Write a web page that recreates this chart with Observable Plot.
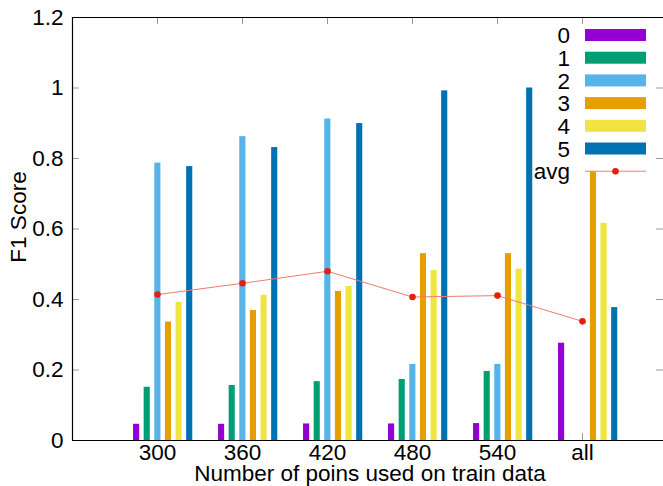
<!DOCTYPE html>
<html>
<head>
<meta charset="utf-8">
<script src="https://cdn.jsdelivr.net/npm/d3@7"></script>
<script src="https://cdn.jsdelivr.net/npm/@observablehq/plot@0.6"></script>
<style>
  html, body { margin: 0; padding: 0; background: #fff; }
  #chart svg { display: block; }
</style>
</head>
<body>
<div id="chart"></div>
<script>
// ---- data ----
const categories = ["300", "360", "420", "480", "540", "all"];
const seriesNames = ["0", "1", "2", "3", "4", "5"];
const s0 = [0.046, 0.046, 0.047, 0.047, 0.048, 0.276];
const s1 = [0.151, 0.156, 0.167, 0.173, 0.196, 0];
const s2 = [0.787, 0.862, 0.912, 0.216, 0.216, 0];
const s3 = [0.336, 0.369, 0.423, 0.530, 0.530, 0.762];
const s4 = [0.392, 0.412, 0.437, 0.482, 0.486, 0.616];
const s5 = [0.777, 0.831, 0.899, 0.992, 1.000, 0.377];
const avgValues = [0.414, 0.446, 0.480, 0.407, 0.411, 0.338];
const yTicks = [0, 0.2, 0.4, 0.6, 0.8, 1, 1.2];
const avgName = "avg";
const xTitle = "Number of poins used on train data";
const yTitle = "F1 Score";

// ---- styles ----
const colors = ["#9400d3", "#009e73", "#56b4e9", "#e69f00", "#f0e442", "#0072b2"];
const avgLineColor = "#f07a72";
const avgDotColor = "#e51e10";
const font = "'Liberation Sans', Arial, Helvetica, sans-serif";
const fontSize = 22.5;

const width = 663, height = 486;
const mL = 72, mT = 17, mB = 46, mR = 0;
const innerW = width - mL - mR, innerH = height - mT - mB;
const tickLen = 7;
const xDomain = [-1, 5.953];
const barStep = 0.125, barShift = 0.004, barHalf = 0.036;

const allSeries = [s0, s1, s2, s3, s4, s5];
const bars = allSeries.flatMap((vals, k) => vals.map((v, i) => ({
  i, k, value: v,
  x1: i + (k - 2) * barStep + barShift - barHalf,
  x2: i + (k - 2) * barStep + barShift + barHalf
})));
const avgRows = avgValues.map((v, i) => ({ i, value: v }));
const catIdx = categories.map((c, i) => i);

const plot = Plot.plot({
  width, height,
  marginLeft: mL, marginTop: mT, marginBottom: mB, marginRight: mR,
  style: { fontFamily: font, fontSize: fontSize + "px", background: "#fff", color: "#000" },
  x: { type: "linear", domain: xDomain },
  y: { domain: [yTicks[0], yTicks[yTicks.length - 1]] },
  color: { domain: seriesNames, range: colors },
  marks: [
    // inward grey tick marks
    Plot.tickY(yTicks, { y: d => d, stroke: "#9a9a9a", insetRight: innerW - tickLen }),
    Plot.tickY(yTicks, { y: d => d, stroke: "#9a9a9a", insetLeft: innerW - tickLen }),
    Plot.tickX(catIdx, { x: d => d, stroke: "#9a9a9a", insetBottom: innerH - tickLen }),
    Plot.tickX(catIdx, { x: d => d, stroke: "#9a9a9a", insetTop: innerH - tickLen }),
    // bars
    Plot.rectY(bars, { x1: "x1", x2: "x2", y1: 0, y2: "value", fill: d => seriesNames[d.k] }),
    // avg line
    Plot.line(avgRows, { x: "i", y: "value", stroke: avgLineColor, strokeWidth: 1 }),
    Plot.dot(avgRows, { x: "i", y: "value", r: 3.3, fill: avgDotColor, stroke: "none" }),
    // border
    Plot.ruleX([xDomain[0]], { stroke: "#000", strokeWidth: 1.2 }),
    Plot.ruleY([yTicks[0]], { stroke: "#000", strokeWidth: 1.2 }),
    Plot.ruleY([yTicks[yTicks.length - 1]], { stroke: "#000", strokeWidth: 1.2 }),
    // axes
    Plot.axisY(yTicks, { tickSize: 0, tickPadding: 9, tickFormat: d => String(d), label: null, fontSize }),
    Plot.axisX(catIdx, { tickSize: 0, tickPadding: 4, tickFormat: i => categories[i], label: null, fontSize })
  ]
});

document.getElementById("chart").appendChild(plot);

// titles and legend
const svg = d3.select(plot);
svg.append("text")
  .attr("x", 370).attr("y", 481)
  .attr("text-anchor", "middle")
  .attr("font-family", font).attr("font-size", fontSize)
  .attr("fill", "#000")
  .text(xTitle);
svg.append("text")
  .attr("transform", "translate(26,217) rotate(-90)")
  .attr("text-anchor", "middle")
  .attr("font-family", font).attr("font-size", fontSize)
  .attr("fill", "#000")
  .text(yTitle);

const leg = svg.append("g");
const rowY0 = 35, rowStep = 22.7, labelX = 570, swX = 585, swW = 61, swH = 12;
seriesNames.forEach((name, k) => {
  const cy = rowY0 + k * rowStep;
  leg.append("text")
    .attr("x", labelX).attr("y", cy).attr("dy", "0.36em")
    .attr("text-anchor", "end")
    .attr("font-family", font).attr("font-size", fontSize)
    .attr("fill", "#000")
    .text(name);
  leg.append("rect")
    .attr("x", swX).attr("y", cy - swH / 2)
    .attr("width", swW).attr("height", swH)
    .attr("fill", colors[k]);
});
{
  const cy = rowY0 + seriesNames.length * rowStep;
  leg.append("text")
    .attr("x", labelX).attr("y", cy).attr("dy", "0.36em")
    .attr("text-anchor", "end")
    .attr("font-family", font).attr("font-size", fontSize)
    .attr("fill", "#000")
    .text(avgName);
  leg.append("line")
    .attr("x1", swX).attr("x2", swX + swW).attr("y1", cy).attr("y2", cy)
    .attr("stroke", avgLineColor).attr("stroke-width", 1);
  leg.append("circle")
    .attr("cx", swX + swW / 2).attr("cy", cy).attr("r", 3.3)
    .attr("fill", avgDotColor);
}
</script>
</body>
</html>
